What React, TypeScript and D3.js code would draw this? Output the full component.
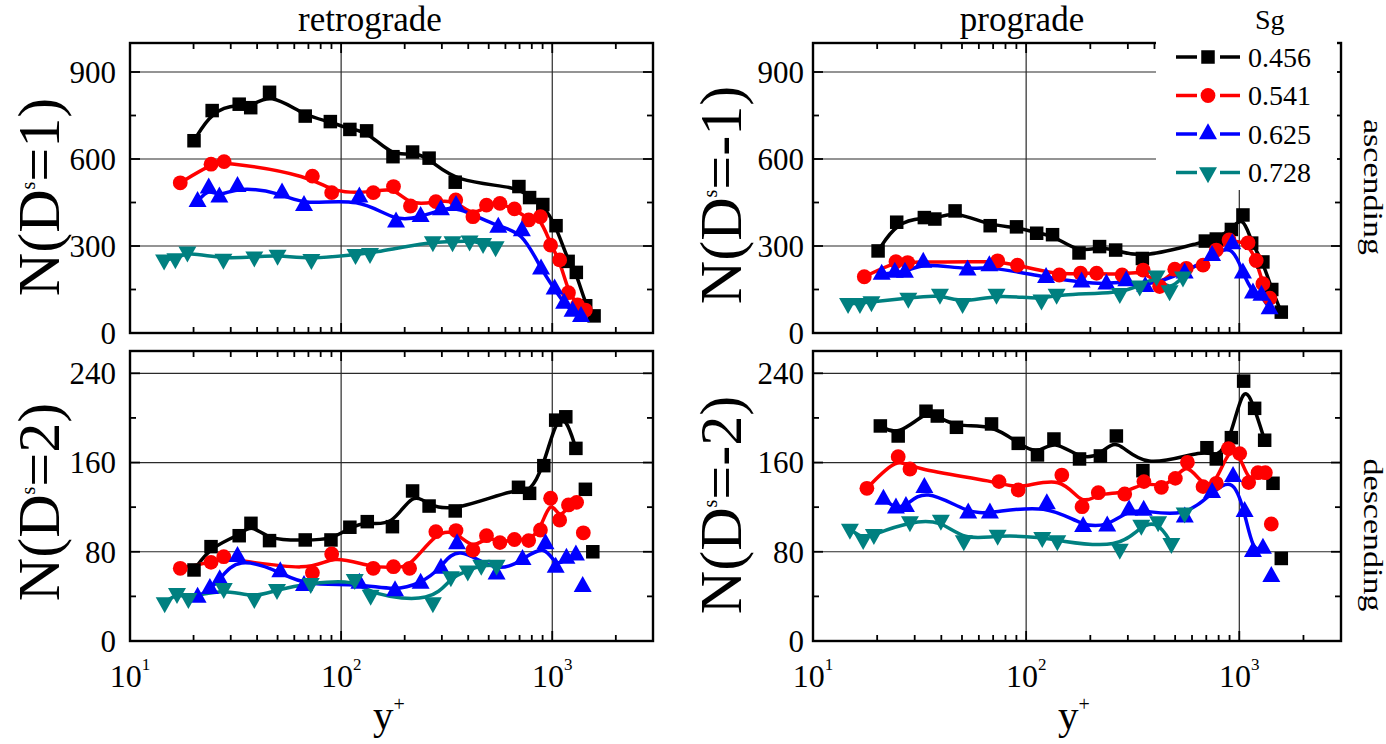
import React from 'react';
import * as d3 from 'd3';

type Pt = [number, number];

// Legend entries (Sg) and axis/tick definitions
const sgValues = ['0.456', '0.541', '0.625', '0.728'];
const seriesColors = ['#000000', '#ff0000', '#0000ff', '#008080'];
const panelTitles = ['retrograde', 'prograde'];
const rowLabels = ['ascending', 'descending'];
const topYTicks = [0, 300, 600, 900];
const topYMinor = [150, 450, 750];
const botYTicks = [0, 80, 160, 240];
const botYMinor = [40, 120, 200];
const xDecades = [10, 100, 1000];
const xDecadeExp = ['1', '2', '3'];

// ---- retrograde, ascending: N(D^s=1) ----
const retroAsc456: Pt[] = [[20.1, 663], [24.5, 767], [32.9, 789], [37.3, 777], [45.8, 830], [67.6, 748], [88.9, 729], [110, 702], [132, 697], [176, 608], [218, 624], [261, 603], [347, 520], [695, 505], [781, 467], [902, 443], [1042, 370], [1189, 247], [1300, 209], [1440, 94], [1578, 59]];
const retroAsc541: Pt[] = [[17.3, 518], [24.2, 582], [27.9, 591], [73.1, 541], [90.2, 484], [142, 484], [177, 505], [213, 438], [281, 453], [349, 459], [421, 401], [488, 441], [565, 447], [662, 428], [773, 390], [879, 401], [982, 303], [1084, 252], [1193, 139], [1318, 97], [1435, 79]];
const retroAsc625: Pt[] = [[20.9, 453], [23.6, 499], [26.5, 468], [32.3, 505], [52.5, 482], [66.7, 439], [122, 468], [182, 382], [238, 401], [297, 424], [350, 439], [555, 364], [718, 352], [885, 220], [1026, 151], [1138, 102], [1248, 74], [1368, 56]];
const retroAsc728: Pt[] = [[14.5, 252], [16.4, 257], [18.7, 280], [27.7, 255], [38.8, 263], [50, 269], [72.3, 254], [117, 271], [137, 275], [272, 315], [337, 315], [406, 318], [470, 309], [539, 298]];

// ---- prograde, ascending: N(D^s=-1) ----
const proAsc456: Pt[] = [[20.2, 283], [24.7, 382], [33.3, 398], [37.3, 393], [46.4, 421], [67.8, 370], [90.1, 366], [112, 344], [133, 339], [177, 276], [221, 298], [263, 286], [351, 257], [693, 317], [780, 324], [918, 357], [1040, 407], [1143, 310], [1290, 245], [1420, 150], [1574, 72]];
const proAsc541: Pt[] = [[17.4, 194], [24.5, 246], [27.8, 243], [73.5, 249], [91, 234], [143, 200], [180, 206], [214, 206], [282, 200], [354, 217], [423, 160], [498, 220], [564, 223], [676, 234], [780, 286], [895, 321], [1099, 311], [1200, 250], [1290, 170], [1390, 120]];
const proAsc625: Pt[] = [[21, 202], [24.2, 209], [27, 209], [32.9, 243], [53.1, 217], [67.2, 231], [124, 191], [182, 175], [238, 168], [295, 180], [362, 160], [554, 206], [745, 267], [927, 307], [1040, 206], [1159, 137], [1270, 130], [1387, 83]];
const proAsc728: Pt[] = [[14.6, 102], [16.6, 102], [18.8, 108], [28, 120], [39.4, 134], [50.3, 102], [72.6, 134], [118, 114], [139, 134], [275, 137], [341, 163], [409, 197], [471, 146], [544, 194]];

// ---- retrograde, descending: N(D^s=2) ----
const retroDesc456: Pt[] = [[20.1, 63.7], [24.2, 84.6], [32.9, 94.4], [37.4, 105.5], [45.8, 90], [67.6, 90.6], [89.5, 90.6], [110, 102], [133, 107], [175, 102.5], [218, 134.5], [261, 121], [347, 116.6], [692, 137.8], [781, 132.4], [912, 157.2], [1038, 198], [1159, 201], [1294, 172.7]];
const retroDesc456Extra: Pt[] = [[1435, 136], [1556, 80]];
const retroDesc541: Pt[] = [[17.3, 65.2], [24.2, 70.5], [27.8, 75.6], [73.1, 61.3], [90.2, 78], [142, 65.2], [177, 66.6], [211, 65.2], [281, 98], [350, 99], [421, 81.6], [488, 94.4], [565, 88.2], [662, 91], [773, 90], [879, 99.5], [982, 128], [1084, 108.5], [1193, 122], [1304, 124.3]];
const retroDesc541Extra: Pt[] = [[1403, 97]];
const retroDesc625: Pt[] = [[20.9, 39], [23.9, 47], [26.6, 54.7], [32.3, 75.6], [51.5, 62], [66.7, 49.6], [122, 51.7], [180, 45], [238, 51.7], [297, 65], [354, 87], [545, 60], [723, 73], [929, 87], [1038, 66], [1167, 74], [1294, 77]];
const retroDesc625Extra: Pt[] = [[1393, 48.7]];
const retroDesc728: Pt[] = [[14.6, 34.4], [16.7, 42.7], [18.9, 38.3], [27.8, 47.2], [38.8, 38.3], [49.7, 46.3], [71.8, 51.7], [116, 55.3], [138, 41.2], [272, 34.4], [331, 57.7], [398, 62.8], [461, 68], [545, 68]];

// ---- prograde, descending: N(D^s=-2) ----
const proDesc456: Pt[] = [[20.7, 192.8], [25.1, 183.8], [33.9, 206], [38.3, 201.7], [47.1, 191.6], [68.8, 194.6], [91.8, 177.2], [113, 166.8], [135, 181.1], [178, 163.2], [223, 165.9], [265, 183.8], [353, 152.7], [705, 173.3], [780, 163.2], [918, 182.3], [1048, 233], [1180, 208.6], [1315, 180]];
const proDesc456Extra: Pt[] = [[1439, 141.4], [1574, 74]];
const proDesc541: Pt[] = [[17.9, 136.9], [25.1, 165.3], [28.5, 154.2], [74.6, 142.9], [91.8, 135.4], [147, 148.8], [183, 120.4], [218, 133], [290, 131.8], [357, 142.9], [431, 137.8], [501, 145.8], [571, 160.2], [676, 138.4], [780, 141.4], [890, 172.5], [1004, 168], [1106, 142], [1224, 150.9], [1325, 150.9]];
const proDesc541Extra: Pt[] = [[1413, 104.9]];
const proDesc625: Pt[] = [[21.4, 127], [24.5, 119], [27.3, 120.4], [33.3, 137.5], [53.5, 114.5], [67.6, 114.5], [125, 122.8], [185, 102.5], [240, 103], [304, 117.4], [356, 117], [555, 111], [745, 133], [935, 147.3], [1059, 116], [1159, 80], [1291, 83]];
const proDesc625Extra: Pt[] = [[1413, 57.6]];
const proDesc728: Pt[] = [[14.9, 100.4], [17.2, 91.2], [19.3, 95.6], [28.5, 107], [39.8, 108.5], [51, 90], [73.5, 95], [119, 93], [140, 90], [275, 82.5], [347, 104], [416, 107], [480, 87.6]];
const proDesc728Extra: Pt[] = [[554, 115]];

const X_DOMAIN: [number, number] = [10, 3000];
const FONT = '"Liberation Serif", "Times New Roman", Times, serif';

type Series = { line: Pt[]; extra?: Pt[] };
type Box = { x0: number; x1: number; y0: number; y1: number };

function Marker({ kind, cx, cy, color }: { kind: number; cx: number; cy: number; color: string }) {
  if (kind === 0) {
    const s = 13.5;
    return <rect x={cx - s / 2} y={cy - s / 2} width={s} height={s} fill={color} />;
  }
  if (kind === 1) return <circle cx={cx} cy={cy} r={7.4} fill={color} />;
  const w = 18, h = 16;
  if (kind === 2) {
    return <path d={`M${cx},${cy - (2 * h) / 3}L${cx + w / 2},${cy + h / 3}L${cx - w / 2},${cy + h / 3}Z`} fill={color} />;
  }
  return <path d={`M${cx},${cy + (2 * h) / 3}L${cx + w / 2},${cy - h / 3}L${cx - w / 2},${cy - h / 3}Z`} fill={color} />;
}

function xMinorValues(): number[] {
  const out: number[] = [];
  xDecades.forEach((d) => {
    for (let k = 2; k <= 9; k++) {
      const v = d * k;
      if (v < X_DOMAIN[1]) out.push(v);
    }
  });
  return out;
}

function Panel({
  box, yMax, yTicks, yMinor, series, labelX, showXLabels, legendCover,
}: {
  box: Box; yMax: number; yTicks: number[]; yMinor: number[]; series: Series[];
  labelX: number; showXLabels: boolean; legendCover?: { x0: number; x1: number; y0: number; y1: number };
}) {
  const x = d3.scaleLog().domain(X_DOMAIN).range([box.x0, box.x1]);
  const y = d3.scaleLinear().domain([0, yMax]).range([box.y1, box.y0]);
  const line = d3.line<Pt>().x((d) => x(d[0])).y((d) => y(d[1])).curve(d3.curveBasis);
  const minors = xMinorValues();
  const major = 10, minor = 6;
  return (
    <g>
      {/* grid */}
      {yTicks.filter((t) => t > 0).map((t) => (
        <line key={`gy${t}`} x1={box.x0} x2={box.x1} y1={y(t)} y2={y(t)} stroke="#2a2a2a" strokeWidth={1.2} />
      ))}
      {[100, 1000].map((t) => (
        <line key={`gx${t}`} x1={x(t)} x2={x(t)} y1={box.y0} y2={box.y1} stroke="#2a2a2a" strokeWidth={1.2} />
      ))}
      {/* ticks on all four sides */}
      {yTicks.map((t) => (
        <g key={`ty${t}`}>
          <line x1={box.x0} x2={box.x0 + major} y1={y(t)} y2={y(t)} stroke="#000" strokeWidth={1.8} />
          <line x1={box.x1} x2={box.x1 - major} y1={y(t)} y2={y(t)} stroke="#000" strokeWidth={1.8} />
        </g>
      ))}
      {yMinor.map((t) => (
        <g key={`tym${t}`}>
          <line x1={box.x0} x2={box.x0 + minor} y1={y(t)} y2={y(t)} stroke="#000" strokeWidth={1.8} />
          <line x1={box.x1} x2={box.x1 - minor} y1={y(t)} y2={y(t)} stroke="#000" strokeWidth={1.8} />
        </g>
      ))}
      {xDecades.map((t) => (
        <g key={`tx${t}`}>
          <line x1={x(t)} x2={x(t)} y1={box.y1} y2={box.y1 - major} stroke="#000" strokeWidth={1.8} />
          <line x1={x(t)} x2={x(t)} y1={box.y0} y2={box.y0 + major} stroke="#000" strokeWidth={1.8} />
        </g>
      ))}
      {minors.map((t) => (
        <g key={`txm${t}`}>
          <line x1={x(t)} x2={x(t)} y1={box.y1} y2={box.y1 - minor} stroke="#000" strokeWidth={1.8} />
          <line x1={x(t)} x2={x(t)} y1={box.y0} y2={box.y0 + minor} stroke="#000" strokeWidth={1.8} />
        </g>
      ))}
      <rect x={box.x0} y={box.y0} width={box.x1 - box.x0} height={box.y1 - box.y0} fill="none" stroke="#000" strokeWidth={2.4} />
      {legendCover && (
        <rect x={legendCover.x0} y={legendCover.y0} width={legendCover.x1 - legendCover.x0} height={legendCover.y1 - legendCover.y0} fill="#fff" />
      )}
      {/* y tick labels */}
      {yTicks.map((t) => (
        <text key={`ly${t}`} x={labelX} y={y(t)} dy="0.35em" textAnchor="end" fontSize={31} fontFamily={FONT} fill="#000">
          {t}
        </text>
      ))}
      {showXLabels && xDecades.map((t, i) => (
        <text key={`lx${t}`} x={x(t)} y={687} textAnchor="middle" fontSize={32} fontFamily={FONT} fill="#000">
          10<tspan fontSize={17} dy={-17}>{xDecadeExp[i]}</tspan>
        </text>
      ))}
      {/* data */}
      {series.map((s, i) => (
        <path key={`ln${i}`} d={line(s.line) || ''} fill="none" stroke={seriesColors[i]} strokeWidth={3.5} strokeLinejoin="round" strokeLinecap="round" />
      ))}
      {series.map((s, i) => (
        <g key={`mk${i}`}>
          {[...s.line, ...(s.extra || [])].map((p, j) => (
            <Marker key={j} kind={i} cx={x(p[0])} cy={y(p[1])} color={seriesColors[i]} />
          ))}
        </g>
      ))}
    </g>
  );
}

function AxisTitle({ x, cy, value }: { x: number; cy: number; value: string }) {
  return (
    <text transform={`translate(${x},${cy}) rotate(-90)`} textAnchor="middle" fontSize={60} fontFamily={FONT} fill="#000">
      N(D<tspan fontSize={20} dy={-24}>s</tspan>
      <tspan dy={24}>{`=${value})`}</tspan>
    </text>
  );
}

export default function App() {
  const leftTop: Box = { x0: 130, x1: 653, y0: 43, y1: 333 };
  const rightTop: Box = { x0: 813, x1: 1341, y0: 43, y1: 333 };
  const leftBot: Box = { x0: 130, x1: 653, y0: 351, y1: 641 };
  const rightBot: Box = { x0: 813, x1: 1341, y0: 351, y1: 641 };

  const legendX = 1176, legendRow0 = 57, legendStep = 38.5;

  return (
    <svg width={1386} height={744} viewBox="0 0 1386 744" style={{ display: 'block', position: 'absolute', left: 0, top: 0, background: '#fff' }}>
      <rect x={0} y={0} width={1386} height={744} fill="#fff" />
      <Panel box={leftTop} yMax={1000} yTicks={topYTicks} yMinor={topYMinor} labelX={116} showXLabels={false}
        series={[{ line: retroAsc456 }, { line: retroAsc541 }, { line: retroAsc625 }, { line: retroAsc728 }]} />
      <Panel box={rightTop} yMax={1000} yTicks={topYTicks} yMinor={topYMinor} labelX={804} showXLabels={false}
        legendCover={{ x0: 1156, x1: 1337, y0: 0, y1: 190 }}
        series={[{ line: proAsc456 }, { line: proAsc541 }, { line: proAsc625 }, { line: proAsc728 }]} />
      <Panel box={leftBot} yMax={260} yTicks={botYTicks} yMinor={botYMinor} labelX={116} showXLabels={true}
        series={[
          { line: retroDesc456, extra: retroDesc456Extra },
          { line: retroDesc541, extra: retroDesc541Extra },
          { line: retroDesc625, extra: retroDesc625Extra },
          { line: retroDesc728 },
        ]} />
      <Panel box={rightBot} yMax={260} yTicks={botYTicks} yMinor={botYMinor} labelX={804} showXLabels={true}
        series={[
          { line: proDesc456, extra: proDesc456Extra },
          { line: proDesc541, extra: proDesc541Extra },
          { line: proDesc625, extra: proDesc625Extra },
          { line: proDesc728, extra: proDesc728Extra },
        ]} />

      {/* column titles */}
      <text x={370} y={31} textAnchor="middle" fontSize={35} fontFamily={FONT}>{panelTitles[0]}</text>
      <text x={1022} y={31} textAnchor="middle" fontSize={35} fontFamily={FONT}>{panelTitles[1]}</text>

      {/* row labels */}
      <text transform={`translate(1364,187) rotate(90) scale(1,0.78)`} textAnchor="middle" fontSize={34} fontFamily={FONT}>{rowLabels[0]}</text>
      <text transform={`translate(1364,535) rotate(90) scale(1,0.78)`} textAnchor="middle" fontSize={34} fontFamily={FONT}>{rowLabels[1]}</text>

      {/* y-axis titles */}
      <AxisTitle x={59} cy={197} value="1" />
      <AxisTitle x={59} cy={502} value="2" />
      <AxisTitle x={741} cy={195} value="-1" />
      <AxisTitle x={741} cy={505} value="-2" />

      {/* x-axis titles */}
      <text x={389} y={729} textAnchor="middle" fontSize={41} fontFamily={FONT}>
        y<tspan fontSize={20} dy={-18}>+</tspan>
      </text>
      <text x={1074} y={729} textAnchor="middle" fontSize={41} fontFamily={FONT}>
        y<tspan fontSize={20} dy={-18}>+</tspan>
      </text>

      {/* legend */}
      <text x={1255} y={29} fontSize={28} fontFamily={FONT}>Sg</text>
      {sgValues.map((label, i) => {
        const cy = legendRow0 + i * legendStep;
        return (
          <g key={label}>
            <line x1={legendX} x2={legendX + 21} y1={cy} y2={cy} stroke={seriesColors[i]} strokeWidth={3.5} />
            <line x1={legendX + 44} x2={legendX + 64} y1={cy} y2={cy} stroke={seriesColors[i]} strokeWidth={3.5} />
            <Marker kind={i} cx={legendX + 32} cy={cy} color={seriesColors[i]} />
            <text x={legendX + 72} y={cy} dy="0.34em" fontSize={28} fontFamily={FONT}>{label}</text>
          </g>
        );
      })}
    </svg>
  );
}
